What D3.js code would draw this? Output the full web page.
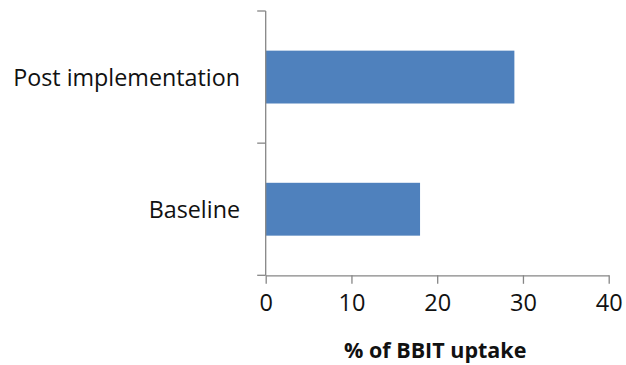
<!DOCTYPE html>
<html><head><meta charset="utf-8">
<script src="https://cdn.jsdelivr.net/npm/d3@7"></script>
<style>body{margin:0;background:#fff}svg{display:block}</style>
</head><body>
<script>
const categories = ["Post implementation", "Baseline"];
const values = [29, 18];
const xTicks = [0, 10, 20, 30, 40];
const xTitle = "% of BBIT uptake";

(function () {
const W = 626, H = 365;
const mLeft = 265.7, mRight = 608.7, mTop = 11, mBottom = 275.3;
const svg = d3.select("body").append("svg").attr("width", W).attr("height", H);
const font = "'Open Sans', sans-serif";

const x = d3.scaleLinear().domain([0, 40]).range([mLeft, mRight]);
const y = d3.scaleBand().domain(categories).range([mTop, mBottom]).paddingInner(0.6).paddingOuter(0.3);
const yb = d3.scaleBand().domain(categories).range([mTop, mBottom]);

svg.selectAll("rect.bar").data(categories).enter().append("rect")
  .attr("class", "bar")
  .attr("x", x(0)).attr("y", d => y(d))
  .attr("width", (d, i) => x(values[i]) - x(0))
  .attr("height", y.bandwidth())
  .attr("fill", "#4F81BD");

const axisColor = "#868686";
svg.append("line").attr("x1", mLeft).attr("x2", mLeft).attr("y1", mTop).attr("y2", mBottom)
  .attr("stroke", axisColor).attr("stroke-width", 1.3);
const bounds = [mTop].concat(categories.map(c => yb(c) + yb.bandwidth()));
svg.selectAll("line.yt").data(bounds).enter().append("line")
  .attr("x1", mLeft - 8.5).attr("x2", mLeft).attr("y1", d => d).attr("y2", d => d)
  .attr("stroke", axisColor).attr("stroke-width", 1.3);

const gx = svg.append("g").attr("transform", `translate(0,${mBottom})`)
  .call(d3.axisBottom(x).tickValues(xTicks).tickSize(8.5).tickSizeOuter(0).tickPadding(11));
gx.select(".domain").attr("stroke", axisColor).attr("stroke-width", 1.3);
gx.selectAll(".tick line").attr("stroke", axisColor).attr("stroke-width", 1.3);
gx.selectAll(".tick text").attr("font-family", font).attr("font-size", 23.5).attr("fill", "#111");

svg.selectAll("text.cat").data(categories).enter().append("text")
  .attr("x", 240).attr("y", d => yb(d) + yb.bandwidth() / 2 + 8.5)
  .attr("text-anchor", "end").attr("font-family", font).attr("font-size", 23.3).attr("fill", "#111")
  .text(d => d);

svg.append("text").attr("x", (mLeft + mRight) / 2 - 2).attr("y", 358)
  .attr("text-anchor", "middle").attr("font-family", font).attr("font-weight", "bold")
  .attr("font-size", 21.5).attr("fill", "#111").text(xTitle);
})();
</script>
</body></html>
